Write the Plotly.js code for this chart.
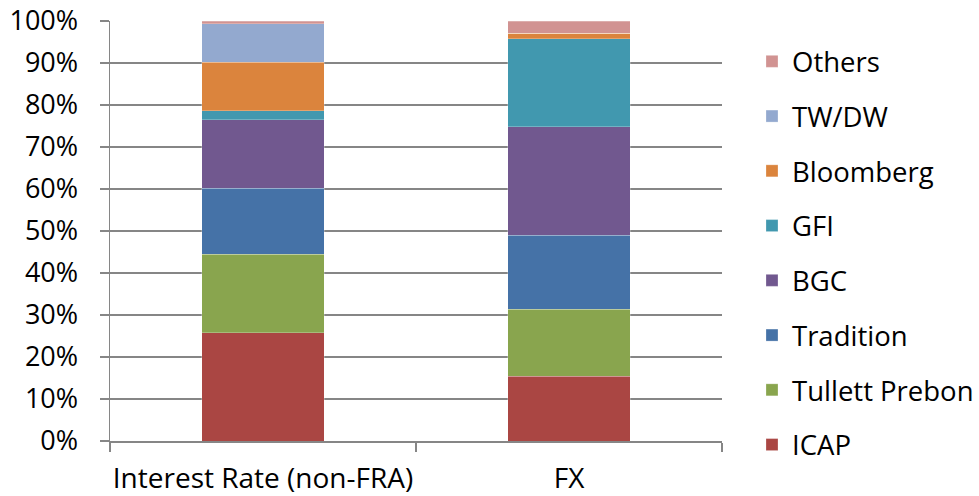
<!DOCTYPE html>
<html>
<head>
<meta charset="utf-8">
<script src="https://cdn.plot.ly/plotly-3.0.1.min.js"></script>
<style>html,body{margin:0;padding:0;background:#fff;}#chart{width:979px;height:496px;}</style>
</head>
<body>
<div id="chart"></div>
<script>
var categories = ["Interest Rate (non-FRA)", "FX"];
var seriesNames = ["ICAP", "Tullett Prebon", "Tradition", "BGC", "GFI", "Bloomberg", "TW/DW", "Others"];
var icap = [25.8, 15.4];
var tullettPrebon = [18.7, 16.0];
var tradition = [15.7, 17.6];
var bgc = [16.3, 25.8];
var gfi = [2.1, 21.0];
var bloomberg = [11.6, 1.3];
var twdw = [9.1, 0];
var others = [0.7, 2.9];
var yTickVals = [0, 10, 20, 30, 40, 50, 60, 70, 80, 90, 100];
var yTickLabels = ["0%", "10%", "20%", "30%", "40%", "50%", "60%", "70%", "80%", "90%", "100%"];

var seriesValues = [icap, tullettPrebon, tradition, bgc, gfi, bloomberg, twdw, others];
var colors = ["#AA4643", "#89A54E", "#4572A7", "#71588F", "#4198AF", "#DB843D", "#93A9CF", "#D19392"];

var traces = seriesNames.map(function(name, i) {
  return {
    type: "bar",
    name: name,
    x: categories,
    y: seriesValues[i],
    legendgroup: name,
    legendrank: seriesNames.length - i,
    marker: {color: colors[i], line: {color: "rgba(255,255,255,0.5)", width: 0.5}},
    hoverinfo: "name+y"
  };
});

var font = "'Open Sans', 'DejaVu Sans', sans-serif";
var layout = {
  width: 979,
  height: 496,
  barmode: "stack",
  bargap: 0.6,
  margin: {l: 110, r: 257, t: 21, b: 55, autoexpand: false},
  paper_bgcolor: "#fff",
  plot_bgcolor: "#fff",
  font: {family: font, size: 28, color: "#000"},
  showlegend: true,
  legend: {
    x: 1.049, xanchor: "left",
    y: 0.462, yanchor: "middle",
    traceorder: "grouped",
    tracegroupgap: 16,
    font: {family: font, size: 27.5, color: "#000"},
    bgcolor: "rgba(0,0,0,0)"
  },
  xaxis: {
    type: "category",
    showgrid: false,
    showline: true,
    linecolor: "#868686",
    linewidth: 1.5,
    ticks: "outside",
    tickson: "boundaries",
    ticklen: 9,
    tickcolor: "#868686",
    tickwidth: 1.5,
    tickangle: 0,
    ticklabelstandoff: 12,
    tickfont: {family: font, size: 28, color: "#000"},
    zeroline: false
  },
  yaxis: {
    range: [0, 100],
    tickmode: "array",
    tickvals: yTickVals,
    ticktext: yTickLabels,
    showgrid: true,
    gridcolor: "#868686",
    gridwidth: 1.5,
    showline: true,
    linecolor: "#868686",
    linewidth: 1.5,
    ticks: "outside",
    ticklen: 9,
    tickcolor: "#868686",
    tickwidth: 1.5,
    ticklabelstandoff: 16,
    tickfont: {family: font, size: 27, color: "#000"},
    zeroline: false
  }
};

Plotly.newPlot("chart", traces, layout, {displayModeBar: false, staticPlot: true});
</script>
</body>
</html>
